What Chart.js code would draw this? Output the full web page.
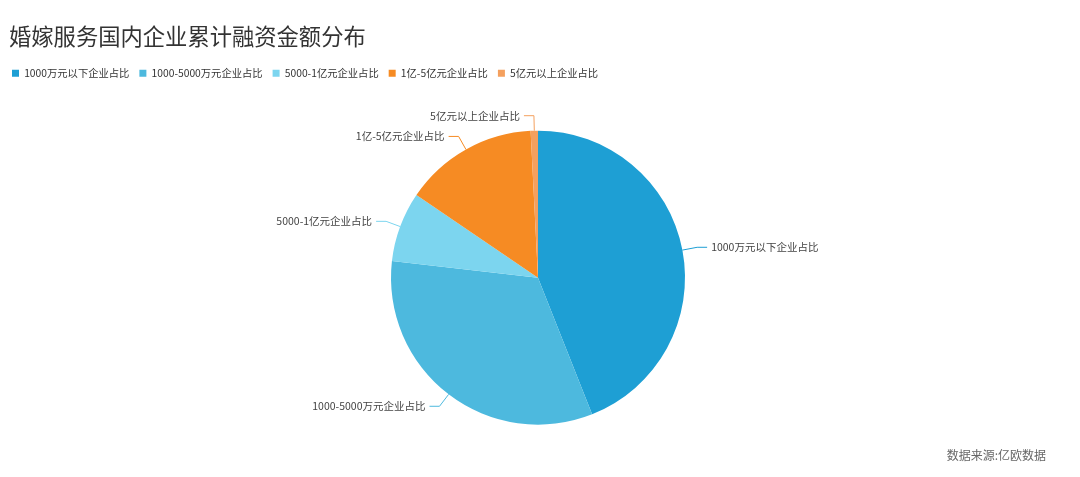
<!DOCTYPE html>
<html>
<head>
<meta charset="utf-8">
<script src="https://cdn.jsdelivr.net/npm/chart.js@4"></script>
<style>
html,body{margin:0;padding:0;background:#fff;}
#wrap{width:1080px;height:477px;position:relative;}
</style>
</head>
<body>
<div id="wrap"><canvas id="c"></canvas></div>
<script>
const titleText = '婚嫁服务国内企业累计融资金额分布';
const sourceText = '数据来源:亿欧数据';
const categories = ['1000万元以下企业占比','1000-5000万元企业占比','5000-1亿元企业占比','1亿-5亿元企业占比','5亿元以上企业占比'];
const values = [44.0, 32.8, 7.7, 14.7, 0.8];
const colors = ['#1E9FD4','#4DB9DE','#7CD5EF','#F68B23','#F4A05E'];

const FONT = '"Noto Sans CJK SC", "Noto Sans", sans-serif';

const decorPlugin = {
  id: 'decor',
  afterDraw(chart) {
    const ctx = chart.ctx;
    ctx.save();
    ctx.fillStyle = '#333';
    ctx.font = '22.3px ' + FONT;
    ctx.textBaseline = 'middle';
    ctx.textAlign = 'left';
    ctx.fillText(titleText, 9, 37);
    ctx.fillStyle = '#666';
    ctx.font = '12px ' + FONT;
    ctx.textAlign = 'right';
    ctx.fillText(sourceText, 1046, 455);
    const meta = chart.getDatasetMeta(0);
    meta.data.forEach((arc, i) => {
      const p = arc.getProps(['x','y','startAngle','endAngle','outerRadius'], true);
      const mid = (p.startAngle + p.endAngle) / 2;
      const r = p.outerRadius;
      const cx = p.x, cy = p.y;
      const x0 = cx + Math.cos(mid) * r, y0 = cy + Math.sin(mid) * r;
      const x1 = cx + Math.cos(mid) * (r + 15), y1 = cy + Math.sin(mid) * (r + 15);
      const right = Math.cos(mid) >= 0;
      const x2 = x1 + (right ? 10 : -10);
      ctx.strokeStyle = colors[i];
      ctx.lineWidth = 1;
      ctx.beginPath();
      ctx.moveTo(x0, y0);
      ctx.lineTo(x1, y1);
      ctx.lineTo(x2, y1);
      ctx.stroke();
      ctx.fillStyle = '#444';
      ctx.font = '10.5px ' + FONT;
      ctx.textAlign = right ? 'left' : 'right';
      ctx.textBaseline = 'middle';
      ctx.fillText(categories[i], x2 + (right ? 4 : -4), y1);
    });
    ctx.restore();
  }
};

new Chart(document.getElementById('c'), {
  type: 'pie',
  data: {
    labels: categories,
    datasets: [{
      data: values,
      backgroundColor: colors,
      borderWidth: 0,
      radius: 147
    }]
  },
  options: {
    responsive: true,
    maintainAspectRatio: false,
    animation: false,
    layout: { padding: { left: 2, right: 6, top: 58, bottom: 10 } },
    plugins: {
      tooltip: { enabled: false },
      title: { display: false },
      legend: {
        display: true,
        position: 'top',
        align: 'start',
        labels: {
          boxWidth: 7,
          boxHeight: 7,
          padding: 10,
          color: '#333',
          font: { size: 10.3, family: FONT }
        }
      }
    }
  },
  plugins: [decorPlugin]
});
</script>
</body>
</html>
